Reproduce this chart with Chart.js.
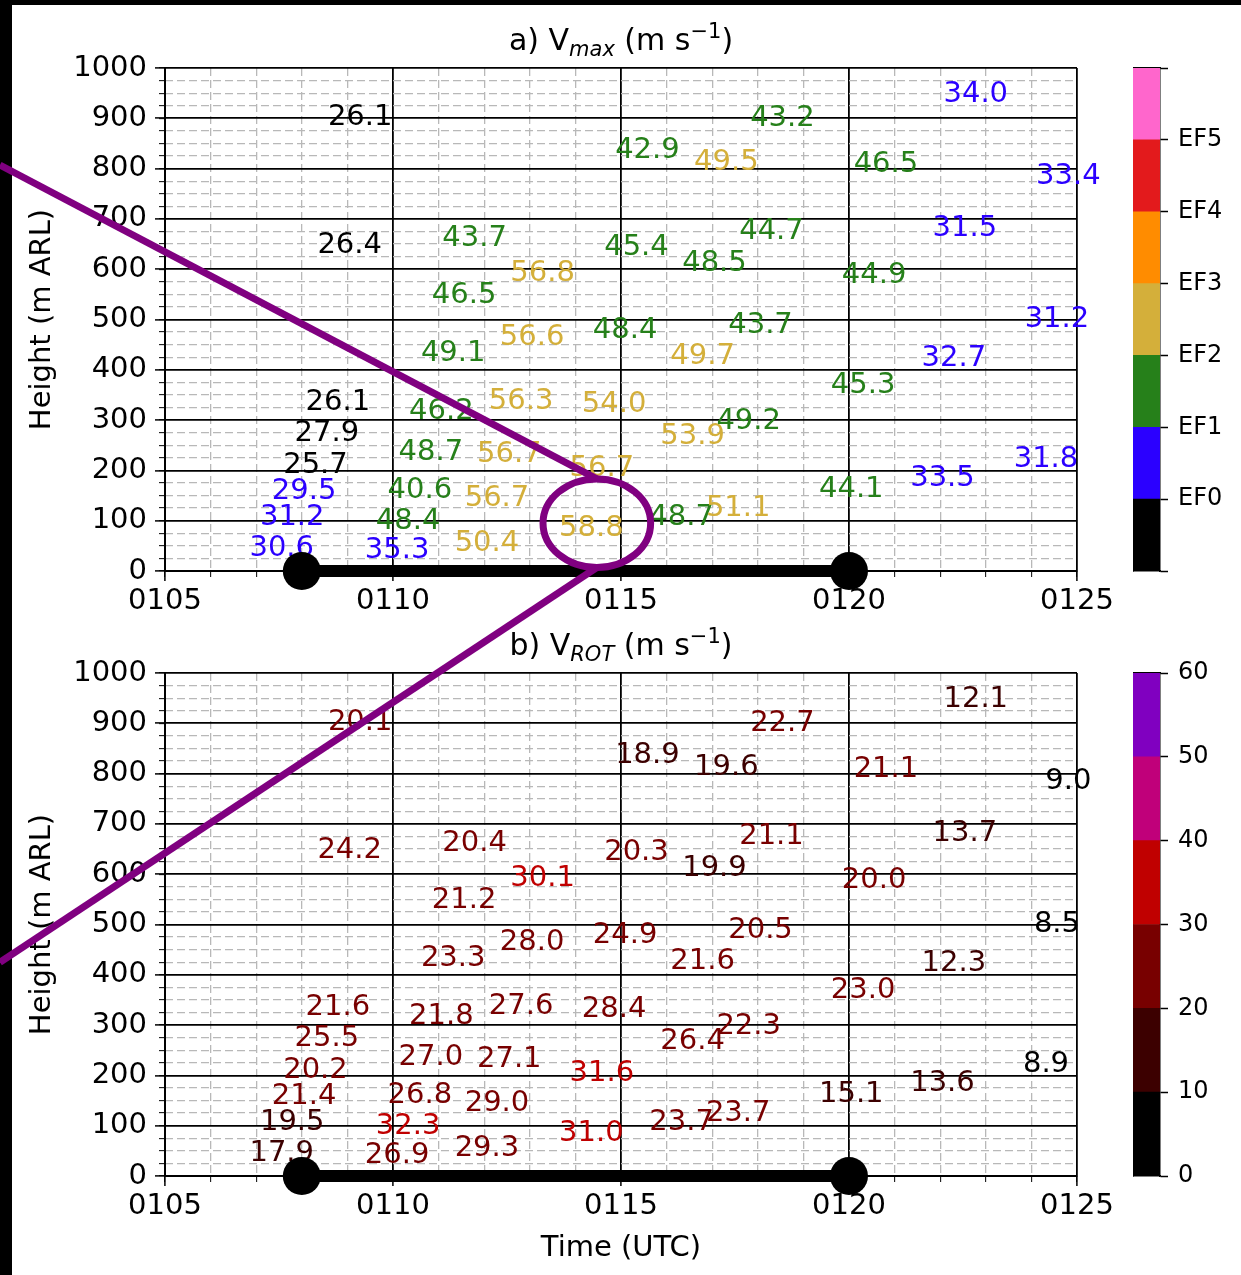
<!DOCTYPE html>
<html>
<head>
<meta charset="utf-8">
<script src="https://cdn.jsdelivr.net/npm/chart.js@4.4.0/dist/chart.umd.min.js"></script>
<style>
  html, body { margin: 0; padding: 0; background: #000; }
  #page { position: relative; width: 1241px; height: 1275px; overflow: hidden; }
  #sheet { position: absolute; left: 12px; top: 5px; right: 0; bottom: 0; background: #fff; }
  canvas { position: absolute; }
</style>
</head>
<body>
<div id="page">
  <div id="sheet"></div>
  <canvas id="chart-vmax" width="1130" height="620" style="left:0;top:0"></canvas>
  <canvas id="cbar-vmax" width="108" height="620" style="left:1133px;top:0"></canvas>
  <canvas id="chart-vrot" width="1130" height="655" style="left:0;top:620px"></canvas>
  <canvas id="cbar-vrot" width="108" height="655" style="left:1133px;top:620px"></canvas>
  <canvas id="overlay" width="1241" height="1275" style="left:0;top:0;pointer-events:none"></canvas>
</div>
<script>
// --- data (time = minutes after 0100 UTC, height = m ARL) ---
const sampleTimes = [
  9.28, 9.05, 8.79, 8.55, 8.30, 8.05, 7.79, 7.56,
  10.09, 10.33, 10.59, 10.83, 11.06, 11.32, 11.56, 11.79,
  12.06, 12.28, 12.55, 12.81, 13.05, 13.28,
  14.35, 14.58, 14.85, 15.09, 15.34, 15.58,
  16.33, 16.57, 16.79, 17.05, 17.31,
  17.57, 17.80, 18.06, 18.30, 18.54,
  20.05, 20.31, 20.55, 20.81,
  22.05, 22.30, 22.54, 22.78,
  24.32, 24.56, 24.81,
];
const sampleHeights = [
  908, 654, 341, 280, 216, 164, 112, 50,
  47, 105, 166, 241, 323, 439, 553, 667,
  61, 150, 238, 343, 470, 598,
  90, 210, 337, 485, 650, 843,
  113, 273, 433, 617, 818,
  130, 303, 494, 681, 906,
  168, 374, 593, 815,
  190, 429, 687, 954,
  228, 506, 790,
];
const vmaxValues = [
  26.1, 26.4, 26.1, 27.9, 25.7, 29.5, 31.2, 30.6,
  35.3, 48.4, 40.6, 48.7, 46.2, 49.1, 46.5, 43.7,
  50.4, 56.7, 56.7, 56.3, 56.6, 56.8,
  58.8, 56.7, 54.0, 48.4, 45.4, 42.9,
  48.7, 53.9, 49.7, 48.5, 49.5,
  51.1, 49.2, 43.7, 44.7, 43.2,
  44.1, 45.3, 44.9, 46.5,
  33.5, 32.7, 31.5, 34.0,
  31.8, 31.2, 33.4,
];
const vrotValues = [
  20.1, 24.2, 21.6, 25.5, 20.2, 21.4, 19.5, 17.9,
  26.9, 32.3, 26.8, 27.0, 21.8, 23.3, 21.2, 20.4,
  29.3, 29.0, 27.1, 27.6, 28.0, 30.1,
  31.0, 31.6, 28.4, 24.9, 20.3, 18.9,
  23.7, 26.4, 21.6, 19.9, 19.6,
  23.7, 22.3, 20.5, 21.1, 22.7,
  15.1, 23.0, 20.0, 21.1,
  13.6, 12.3, 13.7, 12.1,
  8.9, 8.5, 9.0,
];
const tornadoTimes = [8, 20]; // damage path start / end at 0 m

// EF scale thresholds (m s-1) and colours
const efBounds = [29.1, 38.4, 49.3, 60.8, 74.2, 89.4];
const efLabels = ['EF0', 'EF1', 'EF2', 'EF3', 'EF4', 'EF5'];
const efColors = ['#000000', '#2b00ff', '#26801a', '#d4af3a', '#ff8c00', '#e31a1c', '#ff66cc'];
// rotational velocity bins
const rotBounds = [0, 10, 20, 30, 40, 50, 60];
const rotColors = ['#000000', '#3c0000', '#780000', '#c00000', '#c0007a', '#8000c0'];

// hand-drawn annotation (panel a / panel b data coords)
const circleCenter = [14.47, 95];
const circleRadius = [1.18, 88];
const annotStartA = [1.38, 807];
const annotEndB = [1.38, 425];

const FONT = 'DejaVu Sans';
const LABEL_SIZE = 29;
Chart.defaults.font.family = FONT;
Chart.defaults.font.size = 29;
Chart.defaults.color = '#000';

function colorFor(value, bounds, colors) {
  let i = 0;
  while (i < bounds.length && value >= bounds[i]) i++;
  return colors[i];
}

const timeLabel = (v) => '01' + String(v).padStart(2, '0');

function makeLabelPlugin(values, bounds, colors) {
  return {
    id: 'valueLabels',
    beforeDatasetsDraw(chart) {
      const { ctx, scales: { x, y } } = chart;
      ctx.save();
      ctx.font = `${LABEL_SIZE}px "${FONT}"`;
      ctx.textAlign = 'center';
      ctx.textBaseline = 'alphabetic';
      // centre the digits (cap height ~0.73em) on the sample point
      const lift = LABEL_SIZE * 0.365;
      values.forEach((v, i) => {
        ctx.fillStyle = colorFor(v, bounds, colors);
        ctx.fillText(v.toFixed(1), x.getPixelForValue(sampleTimes[i]), y.getPixelForValue(sampleHeights[i]) + lift);
      });
      ctx.restore();
    },
  };
}

// title with sub/superscript pieces
function makeTitlePlugin(parts) {
  const fontOf = (kind) => kind === 'sub' ? `italic 21px "${FONT}"` : kind === 'sup' ? `21px "${FONT}"` : `30px "${FONT}"`;
  const shift = { n: 0, sub: 6, sup: -12 };
  return {
    id: 'mathTitle',
    afterDraw(chart) {
      const { ctx, chartArea } = chart;
      ctx.save();
      ctx.textBaseline = 'alphabetic';
      ctx.textAlign = 'left';
      ctx.fillStyle = '#000';
      let total = 0;
      parts.forEach(([txt, kind]) => { ctx.font = fontOf(kind); total += ctx.measureText(txt).width; });
      let xPos = (chartArea.left + chartArea.right) / 2 - total / 2;
      const base = chartArea.top - 18;
      parts.forEach(([txt, kind]) => {
        ctx.font = fontOf(kind);
        ctx.fillText(txt, xPos, base + shift[kind]);
        xPos += ctx.measureText(txt).width;
      });
      ctx.restore();
    },
  };
}

function buildScales(xHeight, withXTitle) {
  const minorColor = (c) => (c.tick && c.tick.value % 5 === 0) ? 'rgba(0,0,0,0)' : '#b8b8b8';
  const minorColorY = (c) => (c.tick && c.tick.value % 100 === 0) ? 'rgba(0,0,0,0)' : '#b8b8b8';
  return {
    x: {
      type: 'linear', position: 'bottom', min: 5, max: 25, weight: 1,
      ticks: { stepSize: 5, padding: 3, maxRotation: 0, autoSkip: false, callback: timeLabel },
      grid: { color: '#000', lineWidth: 1.8, tickLength: 10, tickWidth: 1.5, tickColor: '#000' },
      border: { color: '#000', width: 2 },
      title: { display: withXTitle, text: 'Time (UTC)', padding: { top: 0, bottom: 9 } },
      afterFit: (s) => { s.height = xHeight; s.paddingLeft = 0; s.paddingRight = 0; },
    },
    xMinor: {
      type: 'linear', position: 'bottom', min: 5, max: 25, weight: 0,
      ticks: { display: false, stepSize: 1 },
      grid: { color: minorColor, lineWidth: 1.3, tickLength: 6, tickWidth: 1, tickColor: '#000' },
      border: { display: false, dash: [8, 4] },
      afterFit: (s) => { s.height = 0; },
    },
    y: {
      type: 'linear', position: 'left', min: 0, max: 1000, weight: 1,
      ticks: { stepSize: 100, padding: 8, callback: (v) => String(v) },
      grid: { color: '#000', lineWidth: 1.8, tickLength: 10, tickWidth: 1.5, tickColor: '#000' },
      border: { color: '#000', width: 2 },
      title: { display: true, text: 'Height (m ARL)', padding: { top: 25, bottom: 0 } },
      afterFit: (s) => { s.width = 165; },
    },
    yMinor: {
      type: 'linear', position: 'left', min: 0, max: 1000, weight: 0,
      ticks: { display: false, stepSize: 25 },
      grid: { color: minorColorY, lineWidth: 1.3, tickLength: 6, tickWidth: 1, tickColor: '#000' },
      border: { display: false, dash: [8, 4] },
      afterFit: (s) => { s.width = 0; },
    },
  };
}

function buildPanel(canvasId, values, bounds, colors, titleParts, padTop, xHeight, withXTitle) {
  const ctx = document.getElementById(canvasId).getContext('2d');
  return new Chart(ctx, {
    type: 'scatter',
    data: {
      datasets: [{
        data: tornadoTimes.map((t) => ({ x: t, y: 0 })),
        xAxisID: 'x', yAxisID: 'y',
        showLine: true,
        borderColor: '#000', borderWidth: 12,
        pointRadius: 19, pointBackgroundColor: '#000', pointBorderWidth: 0,
        clip: false,
      }],
    },
    options: {
      responsive: false,
      animation: false,
      events: [],
      layout: { padding: { left: 0, right: 53, top: padTop, bottom: 0 } },
      plugins: { legend: { display: false }, tooltip: { enabled: false } },
      scales: buildScales(xHeight, withXTitle),
    },
    plugins: [makeLabelPlugin(values, bounds, colors), makeTitlePlugin(titleParts)],
  });
}

function buildColorbar(canvasId, bandEdges, colors, labelOf, padTop, padBottom) {
  const ctx = document.getElementById(canvasId).getContext('2d');
  const datasets = colors.map((c, i) => ({
    data: [[bandEdges[i], bandEdges[i + 1]]],
    backgroundColor: c, borderWidth: 0,
    barPercentage: 1, categoryPercentage: 1,
  }));
  const outline = { display: true, color: '#000', width: 1.5 };
  const noGrid = { drawOnChartArea: false, drawTicks: false };
  const lo = bandEdges[0];
  const hi = bandEdges[bandEdges.length - 1];
  return new Chart(ctx, {
    type: 'bar',
    data: { labels: [''], datasets },
    options: {
      responsive: false,
      animation: false,
      events: [],
      layout: { padding: { left: 0, right: 0, top: padTop, bottom: padBottom } },
      plugins: { legend: { display: false }, tooltip: { enabled: false } },
      scales: {
        x: { stacked: true, grid: noGrid, ticks: { display: false }, border: outline, afterFit: (s) => { s.height = 0; } },
        xTop: { type: 'linear', position: 'top', min: 0, max: 1, grid: noGrid, ticks: { display: false }, border: outline, afterFit: (s) => { s.height = 0; } },
        y: {
          position: 'right', min: lo, max: hi,
          ticks: { stepSize: bandEdges[1] - bandEdges[0], padding: 10, font: { size: 24 }, callback: labelOf },
          grid: { drawOnChartArea: false, tickLength: 8, tickWidth: 1.5, tickColor: '#000' },
          border: outline,
          afterFit: (s) => { s.width = 81; },
        },
        yLeft: { type: 'linear', position: 'left', min: lo, max: hi, grid: noGrid, ticks: { display: false }, border: outline, afterFit: (s) => { s.width = 0; } },
      },
    },
  });
}

const chartA = buildPanel('chart-vmax', vmaxValues, efBounds, efColors,
  [['a) V', 'n'], ['max', 'sub'], [' (m s', 'n'], ['\u22121', 'sup'], [')', 'n']], 68, 49, false);
const chartB = buildPanel('chart-vrot', vrotValues, rotBounds.slice(1, -1), rotColors,
  [['b) V', 'n'], ['ROT', 'sub'], [' (m s', 'n'], ['\u22121', 'sup'], [')', 'n']], 53, 99, true);

const efEdges = efColors.map((c, i) => i).concat(efColors.length);
buildColorbar('cbar-vmax', efEdges, efColors, (v) => efLabels[v - 1] || '', 68, 49);
buildColorbar('cbar-vrot', rotBounds, rotColors, (v) => String(v), 53, 99);

// purple annotation drawn over both panels
function drawAnnotation() {
  const ov = document.getElementById('overlay');
  const ctx = ov.getContext('2d');
  const toPage = (chart, t, h) => [
    chart.scales.x.getPixelForValue(t) + chart.canvas.offsetLeft,
    chart.scales.y.getPixelForValue(h) + chart.canvas.offsetTop,
  ];
  const [cx, cy] = toPage(chartA, circleCenter[0], circleCenter[1]);
  const [ex, ey] = toPage(chartA, circleCenter[0] + circleRadius[0], circleCenter[1] + circleRadius[1]);
  const rx = Math.abs(ex - cx);
  const ry = Math.abs(cy - ey);
  const startA = toPage(chartA, annotStartA[0], annotStartA[1]);
  const endB = toPage(chartB, annotEndB[0], annotEndB[1]);

  ctx.strokeStyle = '#800080';
  ctx.lineWidth = 7;
  ctx.beginPath();
  ctx.ellipse(cx, cy, rx, ry, 0, 0, Math.PI * 2);
  ctx.stroke();
  ctx.beginPath();
  ctx.moveTo(startA[0], startA[1]);
  ctx.lineTo(cx, cy - ry);
  ctx.stroke();
  ctx.beginPath();
  ctx.moveTo(cx, cy + ry);
  ctx.lineTo(endB[0], endB[1]);
  ctx.stroke();
}

drawAnnotation();
</script>
</body>
</html>
